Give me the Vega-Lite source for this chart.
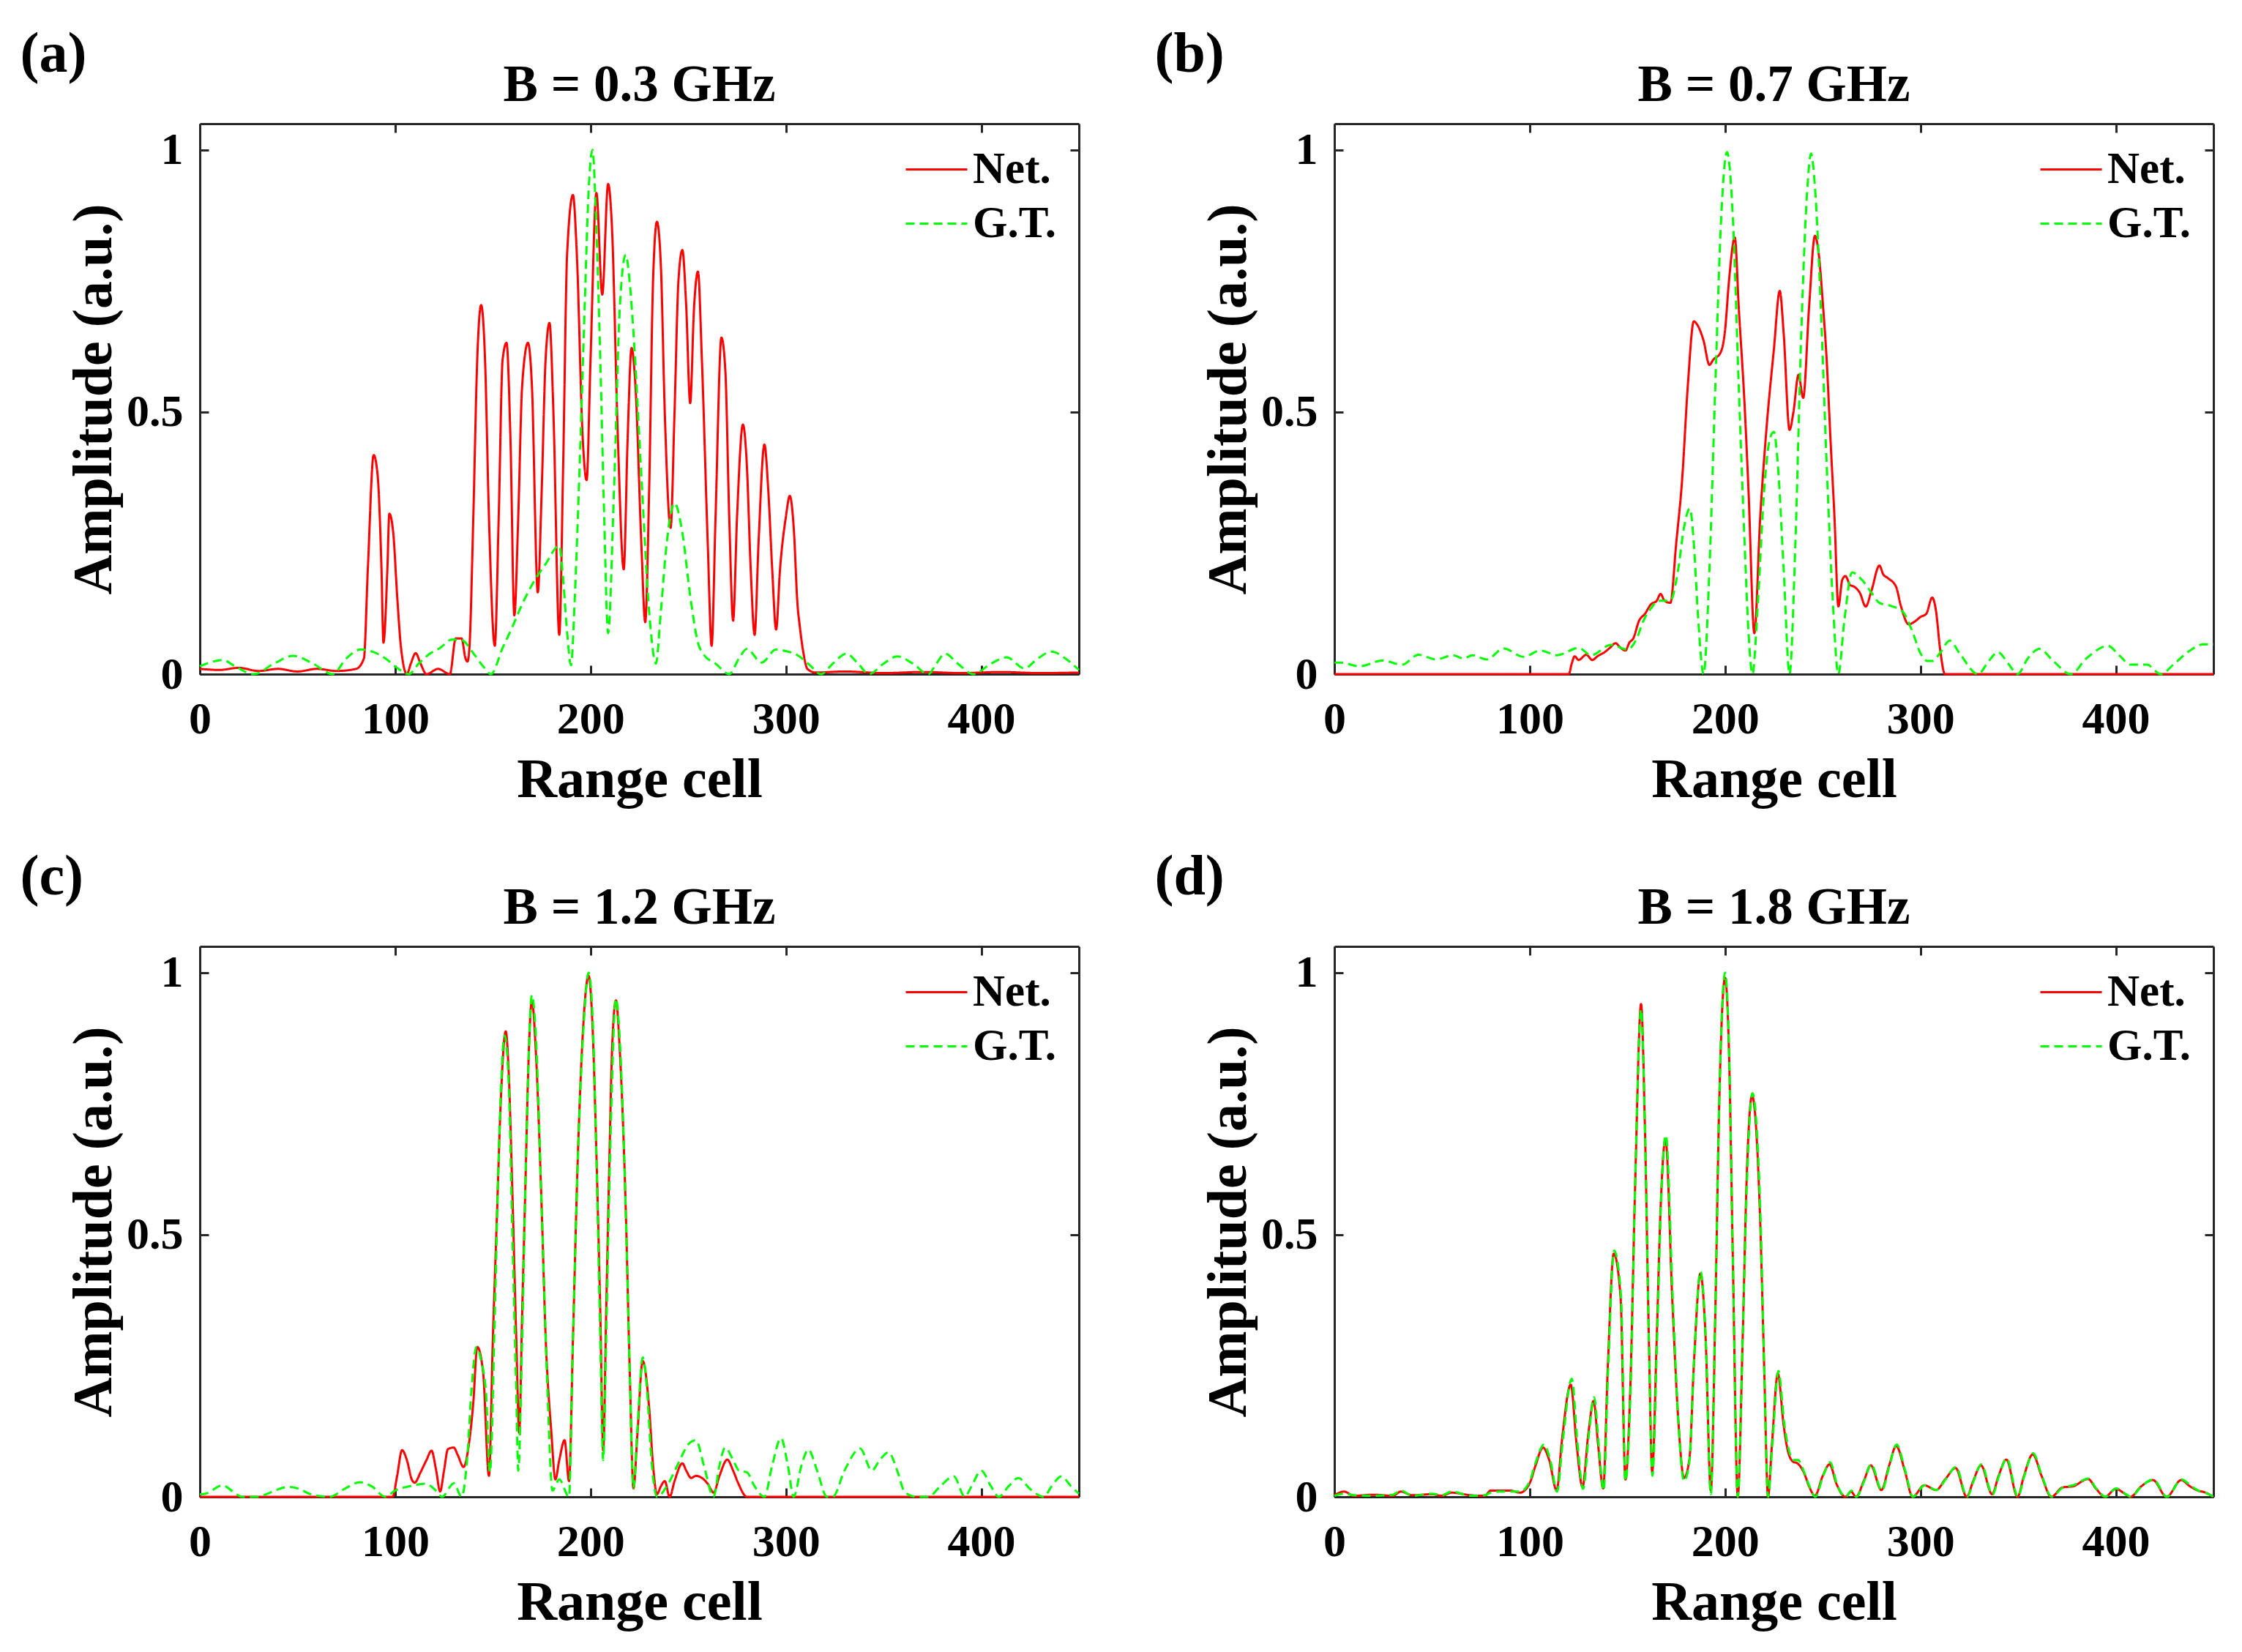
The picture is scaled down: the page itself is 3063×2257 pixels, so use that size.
{
  "$schema": "https://vega.github.io/schema/vega-lite/v6.json",
  "background": "white",
  "padding": {"left": 27, "top": 36, "right": 10, "bottom": 10},
  "columns": 2,
  "spacing": {"row": 57, "column": 97},
  "resolve": {"scale": {"color": "independent", "strokeDash": "independent"}, "legend": {"color": "independent", "strokeDash": "independent"}},
  "config": {
    "font": "Liberation Serif",
    "view": {"stroke": null},
    "axis": {"labelFont": "Liberation Serif", "labelFontWeight": "bold", "labelFontSize": 62, "labelColor": "#000000", "titleFont": "Liberation Serif", "titleFontWeight": "bold", "titleFontSize": 76, "titleColor": "#000000", "domainColor": "#262626", "domainWidth": 3, "tickColor": "#262626", "tickWidth": 3, "tickSize": -12, "grid": false, "labelFlush": false, "labelOverlap": false, "labelBound": false},
    "axisX": {"labelPadding": 43, "titlePadding": 15},
    "axisY": {"labelPadding": 35, "titlePadding": 5},
    "title": {"font": "Liberation Serif", "fontWeight": "bold", "fontSize": 71, "color": "#000000", "anchor": "middle", "frame": "group", "baseline": "alphabetic", "offset": -117},
    "legend": {"symbolType": "stroke", "symbolSize": 7056, "symbolStrokeWidth": 3, "labelFont": "Liberation Serif", "labelFontWeight": "bold", "labelFontSize": 61, "labelColor": "#000000", "labelOffset": 6, "rowPadding": -15, "padding": 0, "labelBaseline": "middle"}
  },
  "datasets": {
    "a": [
      {"s":"Net.","x":0,"y":0.01},{"s":"Net.","x":10,"y":0.008},{"s":"Net.","x":20,"y":0.012},{"s":"Net.","x":30,"y":0.006},{"s":"Net.","x":40,"y":0.01},{"s":"Net.","x":50,"y":0.005},{"s":"Net.","x":60,"y":0.01},{"s":"Net.","x":70,"y":0.006},{"s":"Net.","x":80,"y":0.01},{"s":"Net.","x":84,"y":0.03},{"s":"Net.","x":86,"y":0.2},{"s":"Net.","x":89,"y":0.418},{"s":"Net.","x":91,"y":0.38},{"s":"Net.","x":93,"y":0.2},{"s":"Net.","x":94,"y":0.06},{"s":"Net.","x":96,"y":0.2},{"s":"Net.","x":97,"y":0.306},{"s":"Net.","x":99,"y":0.27},{"s":"Net.","x":101,"y":0.15},{"s":"Net.","x":103,"y":0.05},{"s":"Net.","x":106,"y":0.0},{"s":"Net.","x":108,"y":0.02},{"s":"Net.","x":110.5,"y":0.04},{"s":"Net.","x":113,"y":0.02},{"s":"Net.","x":116,"y":0.0},{"s":"Net.","x":122,"y":0.01},{"s":"Net.","x":128,"y":0.0},{"s":"Net.","x":131,"y":0.068},{"s":"Net.","x":134,"y":0.068},{"s":"Net.","x":136,"y":0.03},{"s":"Net.","x":137,"y":0.024},{"s":"Net.","x":138,"y":0.05},{"s":"Net.","x":140,"y":0.3},{"s":"Net.","x":142,"y":0.6},{"s":"Net.","x":144,"y":0.704},{"s":"Net.","x":146,"y":0.6},{"s":"Net.","x":148,"y":0.3},{"s":"Net.","x":151,"y":0.054},{"s":"Net.","x":153,"y":0.3},{"s":"Net.","x":155,"y":0.6},{"s":"Net.","x":157,"y":0.632},{"s":"Net.","x":159,"y":0.45},{"s":"Net.","x":161,"y":0.112},{"s":"Net.","x":163,"y":0.3},{"s":"Net.","x":165,"y":0.55},{"s":"Net.","x":168,"y":0.632},{"s":"Net.","x":170,"y":0.55},{"s":"Net.","x":173,"y":0.156},{"s":"Net.","x":175,"y":0.35},{"s":"Net.","x":177,"y":0.6},{"s":"Net.","x":179,"y":0.67},{"s":"Net.","x":181,"y":0.5},{"s":"Net.","x":184,"y":0.075},{"s":"Net.","x":186,"y":0.4},{"s":"Net.","x":188,"y":0.8},{"s":"Net.","x":191,"y":0.914},{"s":"Net.","x":193,"y":0.8},{"s":"Net.","x":196,"y":0.45},{"s":"Net.","x":198,"y":0.37},{"s":"Net.","x":200,"y":0.6},{"s":"Net.","x":203,"y":0.918},{"s":"Net.","x":206,"y":0.724},{"s":"Net.","x":209,"y":0.935},{"s":"Net.","x":211,"y":0.85},{"s":"Net.","x":214,"y":0.45},{"s":"Net.","x":217,"y":0.2},{"s":"Net.","x":219,"y":0.45},{"s":"Net.","x":221,"y":0.622},{"s":"Net.","x":223,"y":0.55},{"s":"Net.","x":226,"y":0.25},{"s":"Net.","x":228,"y":0.099},{"s":"Net.","x":230,"y":0.35},{"s":"Net.","x":232,"y":0.75},{"s":"Net.","x":234,"y":0.863},{"s":"Net.","x":236,"y":0.78},{"s":"Net.","x":238,"y":0.5},{"s":"Net.","x":241,"y":0.279},{"s":"Net.","x":243,"y":0.5},{"s":"Net.","x":245,"y":0.75},{"s":"Net.","x":247,"y":0.809},{"s":"Net.","x":249,"y":0.7},{"s":"Net.","x":251,"y":0.517},{"s":"Net.","x":253,"y":0.7},{"s":"Net.","x":255,"y":0.768},{"s":"Net.","x":257,"y":0.6},{"s":"Net.","x":260,"y":0.25},{"s":"Net.","x":262,"y":0.054},{"s":"Net.","x":264,"y":0.3},{"s":"Net.","x":267,"y":0.642},{"s":"Net.","x":269,"y":0.58},{"s":"Net.","x":271,"y":0.3},{"s":"Net.","x":273,"y":0.102},{"s":"Net.","x":275,"y":0.3},{"s":"Net.","x":278,"y":0.476},{"s":"Net.","x":280,"y":0.4},{"s":"Net.","x":282,"y":0.2},{"s":"Net.","x":284,"y":0.075},{"s":"Net.","x":286,"y":0.25},{"s":"Net.","x":289,"y":0.438},{"s":"Net.","x":291,"y":0.35},{"s":"Net.","x":293,"y":0.2},{"s":"Net.","x":295,"y":0.085},{"s":"Net.","x":297,"y":0.2},{"s":"Net.","x":300,"y":0.3},{"s":"Net.","x":302,"y":0.34},{"s":"Net.","x":304,"y":0.28},{"s":"Net.","x":306,"y":0.13},{"s":"Net.","x":307,"y":0.095},{"s":"Net.","x":309,"y":0.04},{"s":"Net.","x":311,"y":0.01},{"s":"Net.","x":315,"y":0.003},{"s":"Net.","x":330,"y":0.005},{"s":"Net.","x":350,"y":0.002},{"s":"Net.","x":370,"y":0.004},{"s":"Net.","x":390,"y":0.002},{"s":"Net.","x":410,"y":0.004},{"s":"Net.","x":430,"y":0.002},{"s":"Net.","x":450,"y":0.003},
      {"s":"G.T.","x":0,"y":0.015},{"s":"G.T.","x":5,"y":0.022},{"s":"G.T.","x":11.6,"y":0.027},{"s":"G.T.","x":18,"y":0.015},{"s":"G.T.","x":27.5,"y":0},{"s":"G.T.","x":38,"y":0.02},{"s":"G.T.","x":47.7,"y":0.035},{"s":"G.T.","x":58,"y":0.02},{"s":"G.T.","x":68,"y":0},{"s":"G.T.","x":75,"y":0.03},{"s":"G.T.","x":82.4,"y":0.047},{"s":"G.T.","x":89,"y":0.042},{"s":"G.T.","x":95,"y":0.03},{"s":"G.T.","x":101,"y":0.012},{"s":"G.T.","x":107,"y":0},{"s":"G.T.","x":112,"y":0.02},{"s":"G.T.","x":117,"y":0.037},{"s":"G.T.","x":123,"y":0.05},{"s":"G.T.","x":129,"y":0.066},{"s":"G.T.","x":134,"y":0.065},{"s":"G.T.","x":140,"y":0.04},{"s":"G.T.","x":145,"y":0.015},{"s":"G.T.","x":149,"y":0},{"s":"G.T.","x":155,"y":0.05},{"s":"G.T.","x":160,"y":0.09},{"s":"G.T.","x":164,"y":0.125},{"s":"G.T.","x":170,"y":0.17},{"s":"G.T.","x":177,"y":0.21},{"s":"G.T.","x":184,"y":0.245},{"s":"G.T.","x":186,"y":0.18},{"s":"G.T.","x":188,"y":0.08},{"s":"G.T.","x":190,"y":0.017},{"s":"G.T.","x":192,"y":0.15},{"s":"G.T.","x":194,"y":0.35},{"s":"G.T.","x":197,"y":0.7},{"s":"G.T.","x":199,"y":0.92},{"s":"G.T.","x":201,"y":1.0},{"s":"G.T.","x":203,"y":0.85},{"s":"G.T.","x":205,"y":0.6},{"s":"G.T.","x":207,"y":0.3},{"s":"G.T.","x":209,"y":0.078},{"s":"G.T.","x":212,"y":0.35},{"s":"G.T.","x":215,"y":0.7},{"s":"G.T.","x":218,"y":0.8},{"s":"G.T.","x":220,"y":0.75},{"s":"G.T.","x":222,"y":0.65},{"s":"G.T.","x":226,"y":0.38},{"s":"G.T.","x":230,"y":0.12},{"s":"G.T.","x":233.5,"y":0.02},{"s":"G.T.","x":236,"y":0.12},{"s":"G.T.","x":239,"y":0.25},{"s":"G.T.","x":243,"y":0.326},{"s":"G.T.","x":247,"y":0.27},{"s":"G.T.","x":251,"y":0.15},{"s":"G.T.","x":255,"y":0.06},{"s":"G.T.","x":258,"y":0.037},{"s":"G.T.","x":264,"y":0.02},{"s":"G.T.","x":271,"y":0},{"s":"G.T.","x":276,"y":0.03},{"s":"G.T.","x":280,"y":0.048},{"s":"G.T.","x":287.6,"y":0.022},{"s":"G.T.","x":295,"y":0.047},{"s":"G.T.","x":300,"y":0.044},{"s":"G.T.","x":306,"y":0.036},{"s":"G.T.","x":312,"y":0.018},{"s":"G.T.","x":318,"y":0},{"s":"G.T.","x":324,"y":0.02},{"s":"G.T.","x":331,"y":0.039},{"s":"G.T.","x":337,"y":0.02},{"s":"G.T.","x":342.5,"y":0},{"s":"G.T.","x":350,"y":0.02},{"s":"G.T.","x":357,"y":0.034},{"s":"G.T.","x":365,"y":0.02},{"s":"G.T.","x":373,"y":0},{"s":"G.T.","x":377,"y":0.02},{"s":"G.T.","x":381.5,"y":0.039},{"s":"G.T.","x":388,"y":0.02},{"s":"G.T.","x":396,"y":0},{"s":"G.T.","x":405,"y":0.02},{"s":"G.T.","x":413,"y":0.032},{"s":"G.T.","x":422,"y":0.011},{"s":"G.T.","x":429,"y":0.03},{"s":"G.T.","x":436,"y":0.043},{"s":"G.T.","x":443,"y":0.03},{"s":"G.T.","x":450,"y":0.008}
    ],
    "b": [
      {"s":"Net.","x":0,"y":0},{"s":"Net.","x":120,"y":0},{"s":"Net.","x":121.5,"y":0.02},{"s":"Net.","x":123,"y":0.034},{"s":"Net.","x":125,"y":0.027},{"s":"Net.","x":129,"y":0.037},{"s":"Net.","x":132,"y":0.027},{"s":"Net.","x":135,"y":0.035},{"s":"Net.","x":138,"y":0.041},{"s":"Net.","x":141,"y":0.05},{"s":"Net.","x":144,"y":0.059},{"s":"Net.","x":146,"y":0.052},{"s":"Net.","x":149,"y":0.045},{"s":"Net.","x":151,"y":0.06},{"s":"Net.","x":153,"y":0.068},{"s":"Net.","x":156,"y":0.102},{"s":"Net.","x":159,"y":0.115},{"s":"Net.","x":162,"y":0.133},{"s":"Net.","x":165,"y":0.14},{"s":"Net.","x":167,"y":0.153},{"s":"Net.","x":169,"y":0.14},{"s":"Net.","x":172,"y":0.136},{"s":"Net.","x":175,"y":0.25},{"s":"Net.","x":178,"y":0.37},{"s":"Net.","x":181,"y":0.554},{"s":"Net.","x":184,"y":0.673},{"s":"Net.","x":186,"y":0.665},{"s":"Net.","x":189,"y":0.636},{"s":"Net.","x":192,"y":0.59},{"s":"Net.","x":194,"y":0.6},{"s":"Net.","x":197.5,"y":0.612},{"s":"Net.","x":200,"y":0.656},{"s":"Net.","x":202,"y":0.75},{"s":"Net.","x":205,"y":0.833},{"s":"Net.","x":207,"y":0.7},{"s":"Net.","x":210,"y":0.513},{"s":"Net.","x":212,"y":0.35},{"s":"Net.","x":215,"y":0.078},{"s":"Net.","x":218,"y":0.3},{"s":"Net.","x":221,"y":0.459},{"s":"Net.","x":225,"y":0.62},{"s":"Net.","x":228,"y":0.731},{"s":"Net.","x":230,"y":0.65},{"s":"Net.","x":233,"y":0.466},{"s":"Net.","x":235,"y":0.5},{"s":"Net.","x":237.6,"y":0.571},{"s":"Net.","x":240,"y":0.527},{"s":"Net.","x":243,"y":0.7},{"s":"Net.","x":246,"y":0.836},{"s":"Net.","x":248,"y":0.8},{"s":"Net.","x":250,"y":0.71},{"s":"Net.","x":252,"y":0.6},{"s":"Net.","x":254,"y":0.445},{"s":"Net.","x":256,"y":0.3},{"s":"Net.","x":258,"y":0.129},{"s":"Net.","x":260,"y":0.18},{"s":"Net.","x":261.6,"y":0.187},{"s":"Net.","x":264,"y":0.17},{"s":"Net.","x":266,"y":0.167},{"s":"Net.","x":269,"y":0.155},{"s":"Net.","x":272,"y":0.129},{"s":"Net.","x":275,"y":0.16},{"s":"Net.","x":279,"y":0.207},{"s":"Net.","x":281,"y":0.19},{"s":"Net.","x":283,"y":0.184},{"s":"Net.","x":287.5,"y":0.167},{"s":"Net.","x":290,"y":0.13},{"s":"Net.","x":294,"y":0.095},{"s":"Net.","x":297,"y":0.1},{"s":"Net.","x":300,"y":0.109},{"s":"Net.","x":303,"y":0.115},{"s":"Net.","x":306,"y":0.146},{"s":"Net.","x":308,"y":0.12},{"s":"Net.","x":310,"y":0.05},{"s":"Net.","x":312.6,"y":0},{"s":"Net.","x":320,"y":0},{"s":"Net.","x":450,"y":0},
      {"s":"G.T.","x":0,"y":0.022},{"s":"G.T.","x":3,"y":0.022},{"s":"G.T.","x":13,"y":0.015},{"s":"G.T.","x":24.6,"y":0.026},{"s":"G.T.","x":34.7,"y":0.018},{"s":"G.T.","x":43,"y":0.037},{"s":"G.T.","x":52,"y":0.028},{"s":"G.T.","x":60.7,"y":0.036},{"s":"G.T.","x":66,"y":0.03},{"s":"G.T.","x":70.8,"y":0.036},{"s":"G.T.","x":78,"y":0.028},{"s":"G.T.","x":86.7,"y":0.049},{"s":"G.T.","x":96.8,"y":0.033},{"s":"G.T.","x":105.5,"y":0.045},{"s":"G.T.","x":114,"y":0.036},{"s":"G.T.","x":125,"y":0.05},{"s":"G.T.","x":131.5,"y":0.036},{"s":"G.T.","x":141.6,"y":0.056},{"s":"G.T.","x":150,"y":0.047},{"s":"G.T.","x":155,"y":0.07},{"s":"G.T.","x":158,"y":0.1},{"s":"G.T.","x":162,"y":0.125},{"s":"G.T.","x":166,"y":0.14},{"s":"G.T.","x":172,"y":0.14},{"s":"G.T.","x":176,"y":0.2},{"s":"G.T.","x":179,"y":0.28},{"s":"G.T.","x":182,"y":0.316},{"s":"G.T.","x":184,"y":0.25},{"s":"G.T.","x":186,"y":0.12},{"s":"G.T.","x":189,"y":0},{"s":"G.T.","x":192,"y":0.2},{"s":"G.T.","x":195,"y":0.55},{"s":"G.T.","x":198,"y":0.87},{"s":"G.T.","x":201,"y":0.996},{"s":"G.T.","x":204,"y":0.87},{"s":"G.T.","x":207,"y":0.55},{"s":"G.T.","x":210,"y":0.25},{"s":"G.T.","x":212,"y":0.08},{"s":"G.T.","x":214,"y":0},{"s":"G.T.","x":217,"y":0.15},{"s":"G.T.","x":220,"y":0.35},{"s":"G.T.","x":223,"y":0.45},{"s":"G.T.","x":225,"y":0.462},{"s":"G.T.","x":227,"y":0.4},{"s":"G.T.","x":230,"y":0.2},{"s":"G.T.","x":233,"y":0},{"s":"G.T.","x":236,"y":0.25},{"s":"G.T.","x":239,"y":0.65},{"s":"G.T.","x":242,"y":0.92},{"s":"G.T.","x":244,"y":0.993},{"s":"G.T.","x":246,"y":0.93},{"s":"G.T.","x":249,"y":0.7},{"s":"G.T.","x":252,"y":0.4},{"s":"G.T.","x":255,"y":0.15},{"s":"G.T.","x":258,"y":0},{"s":"G.T.","x":261,"y":0.1},{"s":"G.T.","x":265,"y":0.194},{"s":"G.T.","x":270,"y":0.18},{"s":"G.T.","x":275,"y":0.155},{"s":"G.T.","x":279,"y":0.136},{"s":"G.T.","x":285,"y":0.13},{"s":"G.T.","x":291,"y":0.119},{"s":"G.T.","x":296,"y":0.08},{"s":"G.T.","x":300,"y":0.04},{"s":"G.T.","x":303.5,"y":0.025},{"s":"G.T.","x":306,"y":0.025},{"s":"G.T.","x":310,"y":0.04},{"s":"G.T.","x":315,"y":0.064},{"s":"G.T.","x":320,"y":0.04},{"s":"G.T.","x":329.5,"y":0},{"s":"G.T.","x":335,"y":0.025},{"s":"G.T.","x":339.6,"y":0.042},{"s":"G.T.","x":345,"y":0.02},{"s":"G.T.","x":349.7,"y":0},{"s":"G.T.","x":355,"y":0.03},{"s":"G.T.","x":361,"y":0.048},{"s":"G.T.","x":368,"y":0.025},{"s":"G.T.","x":377,"y":0},{"s":"G.T.","x":385,"y":0.03},{"s":"G.T.","x":396,"y":0.054},{"s":"G.T.","x":402,"y":0.035},{"s":"G.T.","x":407.5,"y":0.018},{"s":"G.T.","x":416,"y":0.018},{"s":"G.T.","x":423,"y":0},{"s":"G.T.","x":430,"y":0.02},{"s":"G.T.","x":438,"y":0.045},{"s":"G.T.","x":445,"y":0.057},{"s":"G.T.","x":450,"y":0.057}
    ],
    "c": [
      {"s":"Net.","x":0,"y":0},{"s":"Net.","x":98.7,"y":0},{"s":"Net.","x":101,"y":0.04},{"s":"Net.","x":103.5,"y":0.089},{"s":"Net.","x":106,"y":0.07},{"s":"Net.","x":108.5,"y":0.033},{"s":"Net.","x":110,"y":0.027},{"s":"Net.","x":113,"y":0.047},{"s":"Net.","x":116,"y":0.07},{"s":"Net.","x":118.6,"y":0.088},{"s":"Net.","x":121,"y":0.05},{"s":"Net.","x":123,"y":0.01},{"s":"Net.","x":125,"y":0.05},{"s":"Net.","x":127,"y":0.091},{"s":"Net.","x":130,"y":0.094},{"s":"Net.","x":132,"y":0.08},{"s":"Net.","x":135,"y":0.057},{"s":"Net.","x":138,"y":0.108},{"s":"Net.","x":140,"y":0.18},{"s":"Net.","x":142,"y":0.286},{"s":"Net.","x":145,"y":0.238},{"s":"Net.","x":148,"y":0.04},{"s":"Net.","x":150,"y":0.3},{"s":"Net.","x":152,"y":0.526},{"s":"Net.","x":154,"y":0.75},{"s":"Net.","x":156.6,"y":0.888},{"s":"Net.","x":158,"y":0.82},{"s":"Net.","x":160,"y":0.58},{"s":"Net.","x":162,"y":0.3},{"s":"Net.","x":163.5,"y":0.122},{"s":"Net.","x":165,"y":0.35},{"s":"Net.","x":166.8,"y":0.615},{"s":"Net.","x":168,"y":0.8},{"s":"Net.","x":170,"y":0.947},{"s":"Net.","x":172,"y":0.85},{"s":"Net.","x":175,"y":0.55},{"s":"Net.","x":177,"y":0.307},{"s":"Net.","x":180,"y":0.12},{"s":"Net.","x":182,"y":0.033},{"s":"Net.","x":184,"y":0.07},{"s":"Net.","x":186.7,"y":0.108},{"s":"Net.","x":189,"y":0.03},{"s":"Net.","x":191,"y":0.3},{"s":"Net.","x":193.5,"y":0.649},{"s":"Net.","x":196,"y":0.88},{"s":"Net.","x":199,"y":0.994},{"s":"Net.","x":201,"y":0.9},{"s":"Net.","x":203,"y":0.656},{"s":"Net.","x":205,"y":0.35},{"s":"Net.","x":206.5,"y":0.088},{"s":"Net.","x":208,"y":0.35},{"s":"Net.","x":209.7,"y":0.649},{"s":"Net.","x":211,"y":0.85},{"s":"Net.","x":213,"y":0.947},{"s":"Net.","x":215,"y":0.85},{"s":"Net.","x":218,"y":0.553},{"s":"Net.","x":220,"y":0.25},{"s":"Net.","x":222,"y":0.016},{"s":"Net.","x":224,"y":0.12},{"s":"Net.","x":226.7,"y":0.259},{"s":"Net.","x":230,"y":0.17},{"s":"Net.","x":232,"y":0.06},{"s":"Net.","x":234,"y":0.005},{"s":"Net.","x":236,"y":0.02},{"s":"Net.","x":238,"y":0.03},{"s":"Net.","x":240.5,"y":0},{"s":"Net.","x":243,"y":0.03},{"s":"Net.","x":247,"y":0.064},{"s":"Net.","x":249,"y":0.05},{"s":"Net.","x":251.5,"y":0.036},{"s":"Net.","x":254,"y":0.04},{"s":"Net.","x":257,"y":0.036},{"s":"Net.","x":260,"y":0.025},{"s":"Net.","x":263,"y":0.008},{"s":"Net.","x":266,"y":0.04},{"s":"Net.","x":270,"y":0.071},{"s":"Net.","x":273,"y":0.05},{"s":"Net.","x":275.6,"y":0.026},{"s":"Net.","x":280,"y":0},{"s":"Net.","x":450,"y":0},
      {"s":"G.T.","x":0,"y":0.005},{"s":"G.T.","x":3,"y":0.006},{"s":"G.T.","x":11.6,"y":0.022},{"s":"G.T.","x":17,"y":0.01},{"s":"G.T.","x":21.7,"y":0},{"s":"G.T.","x":29,"y":0},{"s":"G.T.","x":34,"y":0.005},{"s":"G.T.","x":39,"y":0.013},{"s":"G.T.","x":46,"y":0.019},{"s":"G.T.","x":51,"y":0.015},{"s":"G.T.","x":56,"y":0.006},{"s":"G.T.","x":66.5,"y":0},{"s":"G.T.","x":74,"y":0.015},{"s":"G.T.","x":82,"y":0.028},{"s":"G.T.","x":88,"y":0.02},{"s":"G.T.","x":95,"y":0},{"s":"G.T.","x":100,"y":0.012},{"s":"G.T.","x":107,"y":0.02},{"s":"G.T.","x":115.6,"y":0.025},{"s":"G.T.","x":120,"y":0.015},{"s":"G.T.","x":124,"y":0},{"s":"G.T.","x":130,"y":0.026},{"s":"G.T.","x":134,"y":0},{"s":"G.T.","x":137,"y":0.08},{"s":"G.T.","x":139,"y":0.2},{"s":"G.T.","x":141.6,"y":0.286},{"s":"G.T.","x":144,"y":0.26},{"s":"G.T.","x":146.5,"y":0.197},{"s":"G.T.","x":148.5,"y":0.047},{"s":"G.T.","x":151,"y":0.35},{"s":"G.T.","x":153,"y":0.65},{"s":"G.T.","x":156,"y":0.88},{"s":"G.T.","x":158,"y":0.8},{"s":"G.T.","x":160,"y":0.5},{"s":"G.T.","x":162,"y":0.2},{"s":"G.T.","x":163,"y":0.05},{"s":"G.T.","x":165,"y":0.3},{"s":"G.T.","x":167,"y":0.65},{"s":"G.T.","x":170,"y":0.957},{"s":"G.T.","x":172,"y":0.88},{"s":"G.T.","x":175,"y":0.55},{"s":"G.T.","x":178,"y":0.2},{"s":"G.T.","x":180.5,"y":0.012},{"s":"G.T.","x":184,"y":0.033},{"s":"G.T.","x":189,"y":0},{"s":"G.T.","x":191,"y":0.3},{"s":"G.T.","x":194,"y":0.7},{"s":"G.T.","x":196.5,"y":0.9},{"s":"G.T.","x":199,"y":1.0},{"s":"G.T.","x":201,"y":0.92},{"s":"G.T.","x":203,"y":0.65},{"s":"G.T.","x":205,"y":0.3},{"s":"G.T.","x":206.5,"y":0.07},{"s":"G.T.","x":208,"y":0.3},{"s":"G.T.","x":210,"y":0.65},{"s":"G.T.","x":213,"y":0.95},{"s":"G.T.","x":215,"y":0.87},{"s":"G.T.","x":218,"y":0.55},{"s":"G.T.","x":220,"y":0.25},{"s":"G.T.","x":222,"y":0.016},{"s":"G.T.","x":224,"y":0.13},{"s":"G.T.","x":226.7,"y":0.266},{"s":"G.T.","x":229,"y":0.2},{"s":"G.T.","x":231,"y":0.08},{"s":"G.T.","x":234,"y":0},{"s":"G.T.","x":239,"y":0.02},{"s":"G.T.","x":243.6,"y":0.053},{"s":"G.T.","x":247,"y":0.08},{"s":"G.T.","x":250,"y":0.1},{"s":"G.T.","x":254,"y":0.108},{"s":"G.T.","x":258,"y":0.06},{"s":"G.T.","x":263,"y":0},{"s":"G.T.","x":266,"y":0.06},{"s":"G.T.","x":269,"y":0.094},{"s":"G.T.","x":273,"y":0.07},{"s":"G.T.","x":276,"y":0.05},{"s":"G.T.","x":280,"y":0.047},{"s":"G.T.","x":284,"y":0.02},{"s":"G.T.","x":289,"y":0},{"s":"G.T.","x":293,"y":0.06},{"s":"G.T.","x":297.5,"y":0.112},{"s":"G.T.","x":301,"y":0.06},{"s":"G.T.","x":304,"y":0},{"s":"G.T.","x":308,"y":0.06},{"s":"G.T.","x":311.5,"y":0.09},{"s":"G.T.","x":316,"y":0.05},{"s":"G.T.","x":321,"y":0},{"s":"G.T.","x":324,"y":0},{"s":"G.T.","x":330,"y":0.05},{"s":"G.T.","x":338,"y":0.092},{"s":"G.T.","x":344,"y":0.05},{"s":"G.T.","x":348,"y":0.07},{"s":"G.T.","x":352.6,"y":0.085},{"s":"G.T.","x":357,"y":0.05},{"s":"G.T.","x":361,"y":0.008},{"s":"G.T.","x":367,"y":0},{"s":"G.T.","x":373,"y":0},{"s":"G.T.","x":379,"y":0.02},{"s":"G.T.","x":386,"y":0.039},{"s":"G.T.","x":391.6,"y":0},{"s":"G.T.","x":395,"y":0.02},{"s":"G.T.","x":400,"y":0.05},{"s":"G.T.","x":405,"y":0.02},{"s":"G.T.","x":409,"y":0},{"s":"G.T.","x":414,"y":0.02},{"s":"G.T.","x":419,"y":0.036},{"s":"G.T.","x":425,"y":0.015},{"s":"G.T.","x":432,"y":0},{"s":"G.T.","x":436,"y":0.02},{"s":"G.T.","x":441,"y":0.039},{"s":"G.T.","x":446,"y":0.02},{"s":"G.T.","x":450,"y":0.006}
    ],
    "d": [
      {"s":"Net.","x":0,"y":0.003},{"s":"Net.","x":5,"y":0.01},{"s":"Net.","x":10,"y":0.002},{"s":"Net.","x":20,"y":0.004},{"s":"Net.","x":30,"y":0.002},{"s":"Net.","x":34,"y":0.01},{"s":"Net.","x":40,"y":0.003},{"s":"Net.","x":50,"y":0.005},{"s":"Net.","x":55,"y":0.002},{"s":"Net.","x":60,"y":0.008},{"s":"Net.","x":70,"y":0.003},{"s":"Net.","x":77,"y":0.002},{"s":"Net.","x":80,"y":0.012},{"s":"Net.","x":85,"y":0.012},{"s":"Net.","x":90,"y":0.012},{"s":"Net.","x":95,"y":0.008},{"s":"Net.","x":100,"y":0.026},{"s":"Net.","x":103,"y":0.06},{"s":"Net.","x":106.8,"y":0.094},{"s":"Net.","x":110,"y":0.07},{"s":"Net.","x":113.8,"y":0.012},{"s":"Net.","x":116.5,"y":0.108},{"s":"Net.","x":121,"y":0.214},{"s":"Net.","x":124,"y":0.1},{"s":"Net.","x":127,"y":0.019},{"s":"Net.","x":130,"y":0.12},{"s":"Net.","x":132.7,"y":0.183},{"s":"Net.","x":135,"y":0.1},{"s":"Net.","x":137.6,"y":0.016},{"s":"Net.","x":140,"y":0.25},{"s":"Net.","x":143,"y":0.464},{"s":"Net.","x":146.5,"y":0.382},{"s":"Net.","x":149,"y":0.033},{"s":"Net.","x":151.4,"y":0.197},{"s":"Net.","x":154,"y":0.6},{"s":"Net.","x":157,"y":0.94},{"s":"Net.","x":159,"y":0.7},{"s":"Net.","x":161,"y":0.3},{"s":"Net.","x":162.7,"y":0.047},{"s":"Net.","x":165,"y":0.3},{"s":"Net.","x":167,"y":0.55},{"s":"Net.","x":169.5,"y":0.683},{"s":"Net.","x":173,"y":0.375},{"s":"Net.","x":176,"y":0.15},{"s":"Net.","x":179,"y":0.036},{"s":"Net.","x":181.8,"y":0.074},{"s":"Net.","x":184,"y":0.25},{"s":"Net.","x":187.4,"y":0.426},{"s":"Net.","x":190,"y":0.307},{"s":"Net.","x":192.7,"y":0.012},{"s":"Net.","x":195,"y":0.35},{"s":"Net.","x":197,"y":0.75},{"s":"Net.","x":200,"y":0.99},{"s":"Net.","x":202,"y":0.85},{"s":"Net.","x":204,"y":0.45},{"s":"Net.","x":206.5,"y":0.0},{"s":"Net.","x":209,"y":0.3},{"s":"Net.","x":211,"y":0.6},{"s":"Net.","x":213.8,"y":0.765},{"s":"Net.","x":217.8,"y":0.546},{"s":"Net.","x":220,"y":0.25},{"s":"Net.","x":222,"y":0.0},{"s":"Net.","x":224,"y":0.1},{"s":"Net.","x":227,"y":0.235},{"s":"Net.","x":230,"y":0.136},{"s":"Net.","x":232,"y":0.09},{"s":"Net.","x":234.8,"y":0.067},{"s":"Net.","x":237,"y":0.064},{"s":"Net.","x":240.5,"y":0.045},{"s":"Net.","x":243,"y":0.02},{"s":"Net.","x":246,"y":0.002},{"s":"Net.","x":250,"y":0.04},{"s":"Net.","x":253.5,"y":0.062},{"s":"Net.","x":257,"y":0.025},{"s":"Net.","x":261.6,"y":0.0},{"s":"Net.","x":264.5,"y":0.01},{"s":"Net.","x":267,"y":0.0},{"s":"Net.","x":271,"y":0.03},{"s":"Net.","x":274.6,"y":0.06},{"s":"Net.","x":280,"y":0.013},{"s":"Net.","x":284,"y":0.06},{"s":"Net.","x":287.6,"y":0.097},{"s":"Net.","x":292,"y":0.05},{"s":"Net.","x":296,"y":0.0},{"s":"Net.","x":302,"y":0.022},{"s":"Net.","x":308,"y":0.013},{"s":"Net.","x":313,"y":0.035},{"s":"Net.","x":318,"y":0.055},{"s":"Net.","x":323.7,"y":0.0},{"s":"Net.","x":327,"y":0.03},{"s":"Net.","x":331,"y":0.06},{"s":"Net.","x":336.7,"y":0.005},{"s":"Net.","x":340,"y":0.04},{"s":"Net.","x":344,"y":0.071},{"s":"Net.","x":349.7,"y":0.0},{"s":"Net.","x":353,"y":0.04},{"s":"Net.","x":357.5,"y":0.081},{"s":"Net.","x":362,"y":0.04},{"s":"Net.","x":367,"y":0.0},{"s":"Net.","x":372.8,"y":0.018},{"s":"Net.","x":378,"y":0.02},{"s":"Net.","x":385.8,"y":0.034},{"s":"Net.","x":390,"y":0.015},{"s":"Net.","x":394.5,"y":0.0},{"s":"Net.","x":400,"y":0.015},{"s":"Net.","x":405,"y":0.005},{"s":"Net.","x":407.5,"y":0},{"s":"Net.","x":413,"y":0.02},{"s":"Net.","x":419,"y":0.032},{"s":"Net.","x":426,"y":0.0},{"s":"Net.","x":433.5,"y":0.032},{"s":"Net.","x":438,"y":0.02},{"s":"Net.","x":442,"y":0.012},{"s":"Net.","x":446,"y":0.008},{"s":"Net.","x":450,"y":0.0},
      {"s":"G.T.","x":0,"y":0.002},{"s":"G.T.","x":5,"y":0.006},{"s":"G.T.","x":10,"y":0.003},{"s":"G.T.","x":20,"y":0.002},{"s":"G.T.","x":30,"y":0.004},{"s":"G.T.","x":34,"y":0.012},{"s":"G.T.","x":40,"y":0.002},{"s":"G.T.","x":50,"y":0.006},{"s":"G.T.","x":55,"y":0.003},{"s":"G.T.","x":60,"y":0.01},{"s":"G.T.","x":70,"y":0.002},{"s":"G.T.","x":77,"y":0.003},{"s":"G.T.","x":80,"y":0.008},{"s":"G.T.","x":85,"y":0.01},{"s":"G.T.","x":90,"y":0.01},{"s":"G.T.","x":95,"y":0.01},{"s":"G.T.","x":100,"y":0.03},{"s":"G.T.","x":103,"y":0.065},{"s":"G.T.","x":107.3,"y":0.1},{"s":"G.T.","x":110.5,"y":0.07},{"s":"G.T.","x":114,"y":0.01},{"s":"G.T.","x":117,"y":0.11},{"s":"G.T.","x":121.5,"y":0.225},{"s":"G.T.","x":124.5,"y":0.1},{"s":"G.T.","x":127.3,"y":0.015},{"s":"G.T.","x":130.3,"y":0.12},{"s":"G.T.","x":133,"y":0.19},{"s":"G.T.","x":135.3,"y":0.1},{"s":"G.T.","x":137.8,"y":0.012},{"s":"G.T.","x":140.2,"y":0.25},{"s":"G.T.","x":143.2,"y":0.47},{"s":"G.T.","x":146.7,"y":0.385},{"s":"G.T.","x":149,"y":0.03},{"s":"G.T.","x":151.6,"y":0.2},{"s":"G.T.","x":154,"y":0.6},{"s":"G.T.","x":157,"y":0.93},{"s":"G.T.","x":159,"y":0.7},{"s":"G.T.","x":161,"y":0.3},{"s":"G.T.","x":162.8,"y":0.04},{"s":"G.T.","x":165.2,"y":0.3},{"s":"G.T.","x":167.2,"y":0.56},{"s":"G.T.","x":169.7,"y":0.69},{"s":"G.T.","x":173.2,"y":0.38},{"s":"G.T.","x":176,"y":0.15},{"s":"G.T.","x":179,"y":0.03},{"s":"G.T.","x":181.8,"y":0.07},{"s":"G.T.","x":184,"y":0.25},{"s":"G.T.","x":187.4,"y":0.43},{"s":"G.T.","x":190,"y":0.31},{"s":"G.T.","x":192.7,"y":0.005},{"s":"G.T.","x":195,"y":0.35},{"s":"G.T.","x":197,"y":0.75},{"s":"G.T.","x":200,"y":1.0},{"s":"G.T.","x":202,"y":0.86},{"s":"G.T.","x":204,"y":0.45},{"s":"G.T.","x":206.5,"y":0.0},{"s":"G.T.","x":209,"y":0.3},{"s":"G.T.","x":211.2,"y":0.6},{"s":"G.T.","x":214,"y":0.77},{"s":"G.T.","x":218,"y":0.55},{"s":"G.T.","x":220,"y":0.25},{"s":"G.T.","x":222,"y":0.0},{"s":"G.T.","x":224.2,"y":0.1},{"s":"G.T.","x":227.3,"y":0.24},{"s":"G.T.","x":230.3,"y":0.14},{"s":"G.T.","x":232.3,"y":0.095},{"s":"G.T.","x":235,"y":0.07},{"s":"G.T.","x":237.3,"y":0.07},{"s":"G.T.","x":240.7,"y":0.045},{"s":"G.T.","x":243.2,"y":0.02},{"s":"G.T.","x":246.2,"y":0.0},{"s":"G.T.","x":250.2,"y":0.04},{"s":"G.T.","x":253.8,"y":0.066},{"s":"G.T.","x":257.2,"y":0.025},{"s":"G.T.","x":261.8,"y":0.0},{"s":"G.T.","x":264.7,"y":0.012},{"s":"G.T.","x":267.2,"y":0.0},{"s":"G.T.","x":271.2,"y":0.03},{"s":"G.T.","x":274.8,"y":0.062},{"s":"G.T.","x":280.2,"y":0.012},{"s":"G.T.","x":284.2,"y":0.06},{"s":"G.T.","x":287.8,"y":0.1},{"s":"G.T.","x":292.2,"y":0.05},{"s":"G.T.","x":296.2,"y":0.0},{"s":"G.T.","x":302.2,"y":0.022},{"s":"G.T.","x":308.2,"y":0.013},{"s":"G.T.","x":313.2,"y":0.035},{"s":"G.T.","x":318.2,"y":0.057},{"s":"G.T.","x":323.9,"y":0.0},{"s":"G.T.","x":327.2,"y":0.03},{"s":"G.T.","x":331.2,"y":0.062},{"s":"G.T.","x":336.9,"y":0.004},{"s":"G.T.","x":340.2,"y":0.04},{"s":"G.T.","x":344.2,"y":0.073},{"s":"G.T.","x":349.9,"y":0.0},{"s":"G.T.","x":353.2,"y":0.04},{"s":"G.T.","x":357.7,"y":0.083},{"s":"G.T.","x":362.2,"y":0.04},{"s":"G.T.","x":367.2,"y":0.0},{"s":"G.T.","x":373,"y":0.018},{"s":"G.T.","x":378.2,"y":0.022},{"s":"G.T.","x":386,"y":0.035},{"s":"G.T.","x":390.2,"y":0.015},{"s":"G.T.","x":394.7,"y":0.0},{"s":"G.T.","x":400.2,"y":0.016},{"s":"G.T.","x":405.2,"y":0.005},{"s":"G.T.","x":407.7,"y":0},{"s":"G.T.","x":413.2,"y":0.02},{"s":"G.T.","x":419.2,"y":0.033},{"s":"G.T.","x":426.2,"y":0.0},{"s":"G.T.","x":433.7,"y":0.033},{"s":"G.T.","x":438.2,"y":0.022},{"s":"G.T.","x":442.2,"y":0.012},{"s":"G.T.","x":446.2,"y":0.007},{"s":"G.T.","x":450,"y":0.0}
    ]
  },
  "concat": [
    {
      "width": 1201, "height": 752,
      "title": {"text": "B = 0.3 GHz"},
      "resolve": {"axis": {"x": "independent", "y": "independent"}},
      "layer": [
        {
          "data": {"name": "a"},
          "mark": {"type": "line", "strokeWidth": 3, "interpolate": "monotone"},
          "encoding": {
            "x": {"field": "x", "type": "quantitative", "scale": {"domain": [0, 450], "nice": false, "zero": false}, "axis": {"orient": "bottom", "title": "Range cell", "values": [0, 100, 200, 300, 400]}},
            "y": {"field": "y", "type": "quantitative", "scale": {"domain": [0, 1.05], "nice": false}, "axis": {"orient": "left", "title": "Amplitude (a.u.)", "values": [0, 0.5, 1], "format": "~g"}},
            "color": {"field": "s", "type": "nominal", "scale": {"domain": ["Net.", "G.T."], "range": ["#ff0000", "#00ff00"]}, "legend": {"orient": "none", "legendX": 963, "legendY": 19, "title": null}},
            "strokeDash": {"field": "s", "type": "nominal", "scale": {"domain": ["Net.", "G.T."], "range": [[1, 0], [12, 7]]}, "legend": {"orient": "none", "legendX": 963, "legendY": 19, "title": null}}
          }
        },
        {
          "data": {"values": [{"t": "(a)"}]},
          "mark": {"type": "text", "align": "left", "baseline": "alphabetic", "fontSize": 78, "font": "Liberation Serif", "fontWeight": "bold", "color": "#000000"},
          "encoding": {
            "x": {"datum": -92, "type": "quantitative", "axis": {"orient": "top", "labels": false, "title": null, "values": [0, 100, 200, 300, 400]}},
            "y": {"datum": 1.149, "type": "quantitative", "axis": {"orient": "right", "labels": false, "title": null, "values": [0, 0.5, 1]}},
            "text": {"field": "t"}
          }
        }
      ]
    },
    {
      "width": 1201, "height": 752,
      "title": {"text": "B = 0.7 GHz"},
      "resolve": {"axis": {"x": "independent", "y": "independent"}},
      "layer": [
        {
          "data": {"name": "b"},
          "mark": {"type": "line", "strokeWidth": 3, "interpolate": "monotone"},
          "encoding": {
            "x": {"field": "x", "type": "quantitative", "scale": {"domain": [0, 450], "nice": false, "zero": false}, "axis": {"orient": "bottom", "title": "Range cell", "values": [0, 100, 200, 300, 400]}},
            "y": {"field": "y", "type": "quantitative", "scale": {"domain": [0, 1.05], "nice": false}, "axis": {"orient": "left", "title": "Amplitude (a.u.)", "values": [0, 0.5, 1], "format": "~g"}},
            "color": {"field": "s", "type": "nominal", "scale": {"domain": ["Net.", "G.T."], "range": ["#ff0000", "#00ff00"]}, "legend": {"orient": "none", "legendX": 963, "legendY": 19, "title": null}},
            "strokeDash": {"field": "s", "type": "nominal", "scale": {"domain": ["Net.", "G.T."], "range": [[1, 0], [12, 7]]}, "legend": {"orient": "none", "legendX": 963, "legendY": 19, "title": null}}
          }
        },
        {
          "data": {"values": [{"t": "(b)"}]},
          "mark": {"type": "text", "align": "left", "baseline": "alphabetic", "fontSize": 78, "font": "Liberation Serif", "fontWeight": "bold", "color": "#000000"},
          "encoding": {
            "x": {"datum": -92, "type": "quantitative", "axis": {"orient": "top", "labels": false, "title": null, "values": [0, 100, 200, 300, 400]}},
            "y": {"datum": 1.149, "type": "quantitative", "axis": {"orient": "right", "labels": false, "title": null, "values": [0, 0.5, 1]}},
            "text": {"field": "t"}
          }
        }
      ]
    },
    {
      "width": 1201, "height": 752,
      "title": {"text": "B = 1.2 GHz"},
      "resolve": {"axis": {"x": "independent", "y": "independent"}},
      "layer": [
        {
          "data": {"name": "c"},
          "mark": {"type": "line", "strokeWidth": 3, "interpolate": "monotone"},
          "encoding": {
            "x": {"field": "x", "type": "quantitative", "scale": {"domain": [0, 450], "nice": false, "zero": false}, "axis": {"orient": "bottom", "title": "Range cell", "values": [0, 100, 200, 300, 400]}},
            "y": {"field": "y", "type": "quantitative", "scale": {"domain": [0, 1.05], "nice": false}, "axis": {"orient": "left", "title": "Amplitude (a.u.)", "values": [0, 0.5, 1], "format": "~g"}},
            "color": {"field": "s", "type": "nominal", "scale": {"domain": ["Net.", "G.T."], "range": ["#ff0000", "#00ff00"]}, "legend": {"orient": "none", "legendX": 963, "legendY": 19, "title": null}},
            "strokeDash": {"field": "s", "type": "nominal", "scale": {"domain": ["Net.", "G.T."], "range": [[1, 0], [12, 7]]}, "legend": {"orient": "none", "legendX": 963, "legendY": 19, "title": null}}
          }
        },
        {
          "data": {"values": [{"t": "(c)"}]},
          "mark": {"type": "text", "align": "left", "baseline": "alphabetic", "fontSize": 78, "font": "Liberation Serif", "fontWeight": "bold", "color": "#000000"},
          "encoding": {
            "x": {"datum": -92, "type": "quantitative", "axis": {"orient": "top", "labels": false, "title": null, "values": [0, 100, 200, 300, 400]}},
            "y": {"datum": 1.149, "type": "quantitative", "axis": {"orient": "right", "labels": false, "title": null, "values": [0, 0.5, 1]}},
            "text": {"field": "t"}
          }
        }
      ]
    },
    {
      "width": 1201, "height": 752,
      "title": {"text": "B = 1.8 GHz"},
      "resolve": {"axis": {"x": "independent", "y": "independent"}},
      "layer": [
        {
          "data": {"name": "d"},
          "mark": {"type": "line", "strokeWidth": 3, "interpolate": "monotone"},
          "encoding": {
            "x": {"field": "x", "type": "quantitative", "scale": {"domain": [0, 450], "nice": false, "zero": false}, "axis": {"orient": "bottom", "title": "Range cell", "values": [0, 100, 200, 300, 400]}},
            "y": {"field": "y", "type": "quantitative", "scale": {"domain": [0, 1.05], "nice": false}, "axis": {"orient": "left", "title": "Amplitude (a.u.)", "values": [0, 0.5, 1], "format": "~g"}},
            "color": {"field": "s", "type": "nominal", "scale": {"domain": ["Net.", "G.T."], "range": ["#ff0000", "#00ff00"]}, "legend": {"orient": "none", "legendX": 963, "legendY": 19, "title": null}},
            "strokeDash": {"field": "s", "type": "nominal", "scale": {"domain": ["Net.", "G.T."], "range": [[1, 0], [12, 7]]}, "legend": {"orient": "none", "legendX": 963, "legendY": 19, "title": null}}
          }
        },
        {
          "data": {"values": [{"t": "(d)"}]},
          "mark": {"type": "text", "align": "left", "baseline": "alphabetic", "fontSize": 78, "font": "Liberation Serif", "fontWeight": "bold", "color": "#000000"},
          "encoding": {
            "x": {"datum": -92, "type": "quantitative", "axis": {"orient": "top", "labels": false, "title": null, "values": [0, 100, 200, 300, 400]}},
            "y": {"datum": 1.149, "type": "quantitative", "axis": {"orient": "right", "labels": false, "title": null, "values": [0, 0.5, 1]}},
            "text": {"field": "t"}
          }
        }
      ]
    }
  ]
}
